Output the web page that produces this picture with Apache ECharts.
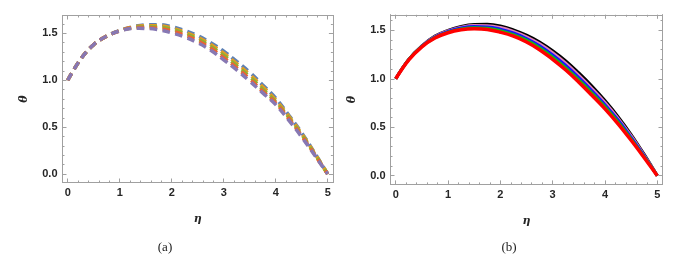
<!DOCTYPE html>
<html>
<head>
<meta charset="utf-8">
<script src="https://cdn.jsdelivr.net/npm/echarts@6/dist/echarts.min.js"></script>
<style>
html,body{margin:0;padding:0;background:#fff;}
#c{width:688px;height:258px;}
</style>
</head>
<body>
<div id="c"></div>
<script>
// ---- data ----
const eta = [0,0.25,0.5,0.75,1,1.25,1.5,1.75,2,2.25,2.5,2.75,3,3.25,3.5,3.75,4,4.25,4.5,4.75,5];

// panel (a) – dashed curves (top to bottom)
const aBlue   = [1,1.225,1.38,1.47,1.53,1.57,1.59,1.592,1.572,1.53,1.475,1.40,1.31,1.20,1.085,0.95,0.81,0.63,0.44,0.225,0];
const aOrange = [1,1.225,1.38,1.47,1.528,1.565,1.58,1.58,1.557,1.513,1.457,1.38,1.288,1.178,1.06,0.93,0.79,0.617,0.43,0.22,0];
const aGreen  = [1,1.225,1.38,1.47,1.527,1.56,1.571,1.567,1.543,1.497,1.44,1.36,1.265,1.155,1.037,0.905,0.77,0.603,0.418,0.213,0];
const aRed    = [1,1.225,1.38,1.47,1.526,1.557,1.561,1.552,1.525,1.48,1.42,1.34,1.241,1.132,1.013,0.882,0.757,0.59,0.406,0.207,0];
const aPurple = [1,1.225,1.38,1.47,1.525,1.553,1.552,1.537,1.505,1.46,1.40,1.32,1.218,1.11,0.99,0.865,0.74,0.575,0.395,0.20,0];

// panel (b) – solid curves (top to bottom)
const bBlack = [1,1.20,1.34,1.44,1.50,1.54,1.56,1.562,1.545,1.505,1.45,1.38,1.29,1.185,1.06,0.925,0.775,0.61,0.425,0.22,0];
const bPink  = [1,1.20,1.338,1.435,1.494,1.531,1.549,1.548,1.529,1.489,1.433,1.36,1.268,1.16,1.035,0.90,0.755,0.592,0.41,0.21,0];
const bBlue  = [1,1.20,1.336,1.43,1.488,1.523,1.538,1.535,1.512,1.472,1.415,1.34,1.245,1.137,1.012,0.877,0.733,0.574,0.395,0.202,0];
const bGreen = [1,1.20,1.334,1.425,1.481,1.514,1.527,1.522,1.496,1.456,1.398,1.32,1.223,1.113,0.988,0.853,0.711,0.555,0.38,0.193,0];
const bRed   = [1,1.195,1.33,1.42,1.475,1.505,1.515,1.508,1.48,1.44,1.38,1.30,1.20,1.09,0.965,0.83,0.69,0.535,0.365,0.185,0];

const xMajor = [0,1,2,3,4,5];
const yMajor = [0,0.5,1,1.5];
const xMinorStep = 0.2;
const yMinorStep = 0.1;

// ---- build ----
function range(a,b,s){const r=[];for(let i=Math.round(a/s);i*s<=b+1e-9;i++){r.push(+(i*s).toFixed(4));}return r;}
const xMinor = range(0,5,xMinorStep);
const yMinor = range(0,1.6,yMinorStep);

const frameColor = '#a0a0a0';
const labelFont = {color:'#262626', fontFamily:'Liberation Sans', fontWeight:'bold', fontSize:11};

const grids = [
  {left:62.5, top:15.5, width:270.4, height:167, xmin:-0.1, xmax:5.1, ymin:-0.09, ymax:1.69},
  {left:390.5, top:14.8, width:272, height:169.6, xmin:-0.1, xmax:5.1, ymin:-0.09, ymax:1.66}
];

const xAxes=[], yAxes=[];
grids.forEach((g,gi)=>{
  const base = {type:'value', gridIndex:gi, splitLine:{show:false}};
  const mk = (dim, pos, vals, len, labels, name) => {
    const isX = dim==='x';
    const ax = Object.assign({}, base, {
      position: pos,
      min: isX?g.xmin:g.ymin, max: isX?g.xmax:g.ymax,
      axisLine:{show:true, onZero:false, lineStyle:{color:frameColor, width:1}},
      axisTick:{show:true, inside:true, length:len, customValues:vals, lineStyle:{color:frameColor,width:1}},
      axisLabel: labels ? Object.assign({show:true, customValues:vals, margin:isX?5:5,
                   formatter:(v)=> isX? String(Math.round(v)) : v.toFixed(1)}, labelFont)
                 : {show:false}
    });
    if (name) {
      ax.name = name;
      ax.nameLocation = 'middle';
      ax.nameGap = isX?31:33;
      ax.nameRotate = isX?0:90;
      ax.nameTextStyle = {fontFamily:'DejaVu Serif', fontStyle:'italic', fontWeight:'bold', fontSize:11, color:'#262626'};
    }
    return ax;
  };
  xAxes.push(mk('x','bottom',xMajor,4,true,'η'));
  xAxes.push(mk('x','bottom',xMinor,2,false));
  xAxes.push(mk('x','top',xMajor,4,false));
  xAxes.push(mk('x','top',xMinor,2,false));
  yAxes.push(mk('y','left',yMajor,4,true,'θ'));
  yAxes.push(mk('y','left',yMinor,2,false));
  yAxes.push(mk('y','right',yMajor,4,false));
  yAxes.push(mk('y','right',yMinor,2,false));
});

function pts(arr){return eta.map((x,i)=>[x,arr[i]]);}
const series=[];
[[aBlue,'#5E81B5'],[aOrange,'#E19C24'],[aGreen,'#8FB032'],[aRed,'#EB6235'],[aPurple,'#8778B3']].forEach(([d,c])=>{
  series.push({type:'line', xAxisIndex:0, yAxisIndex:0, data:pts(d), smooth:0.4, showSymbol:false, animation:false,
    lineStyle:{color:c, width:3.5, type:[8,5], cap:'butt'}});
});
[[bBlack,'#000000',3],[bPink,'#e27fb8',3],[bBlue,'#1515ff',3],[bGreen,'#10c010',3],[bRed,'#ff0000',3.5]].forEach(([d,c,w])=>{
  series.push({type:'line', xAxisIndex:4, yAxisIndex:4, data:pts(d), smooth:0.4, showSymbol:false, animation:false,
    lineStyle:{color:c, width:w}});
});

const chart = echarts.init(document.getElementById('c'), null, {renderer:'canvas'});
chart.setOption({
  animation:false,
  backgroundColor:'#ffffff',
  grid: grids.map(g=>({left:g.left, top:g.top, width:g.width, height:g.height, containLabel:false})),
  xAxis: xAxes,
  yAxis: yAxes,
  series: series,
  graphic:[
    {type:'text', x:165, y:248, style:{text:'(a)', font:'13px "Liberation Serif"', fill:'#222', align:'center', verticalAlign:'middle'}},
    {type:'text', x:509, y:248, style:{text:'(b)', font:'13px "Liberation Serif"', fill:'#222', align:'center', verticalAlign:'middle'}}
  ]
});
</script>
</body>
</html>
